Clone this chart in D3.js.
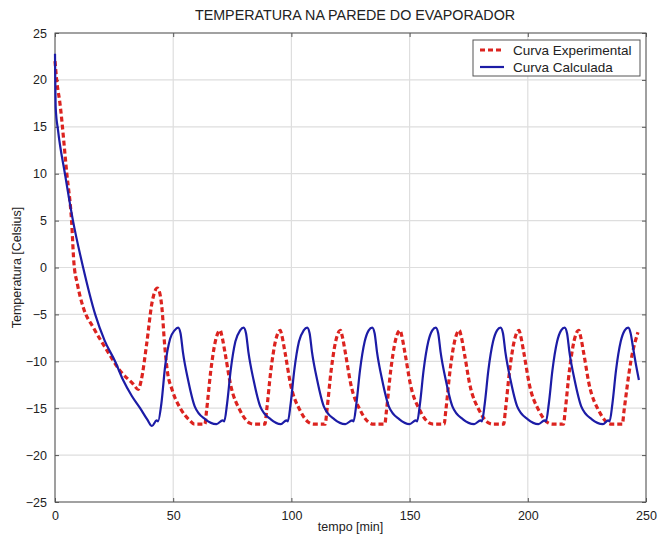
<!DOCTYPE html>
<html>
<head>
<meta charset="utf-8">
<script src="https://cdn.jsdelivr.net/npm/d3@7"></script>
<style>
	body { margin: 0; background: #fff; }
	svg { font-family: "Liberation Sans", Arial, sans-serif; }
</style>
</head>
<body>
<div id="chart"></div>
<script>
// curva experimental (tempo [min], temperatura [C])
var experimental = [
	[0, 22], [0.7, 20], [2.1, 17.5], [5, 10], [7, 5], [8, 0.5], [9.5, -1.8], [12, -4.3],
	[16.2, -6.4], [21.9, -8.8], [27.5, -11], [33, -12.4], [35.2, -13], [36.5, -12],
	[38.8, -8.1], [41, -3.8], [43.3, -2.2], [44.3, -2.7], [45.3, -4.5], [46.3, -8],
	[47.5, -11], [49.5, -13], [53, -15], [57, -16.3], [59, -16.7],
	[63.4, -16.7], [64.1, -15.3], [65.9, -11], [67.9, -7.8], [69.3, -6.8], [69.9, -6.7], [70.5, -7.2], [72, -9.2], [74.2, -12.4], [78.4, -15.3], [82.4, -16.6], [83.9, -16.7],
	[88.8, -16.7], [89.5, -15.3], [91.3, -11], [93.3, -7.8], [94.7, -6.8], [95.3, -6.7], [95.9, -7.2], [97.4, -9.2], [99.6, -12.4], [103.8, -15.3], [107.8, -16.6], [109.3, -16.7],
	[114.3, -16.7], [115, -15.3], [116.8, -11], [118.8, -7.8], [120.2, -6.8], [120.8, -6.7], [121.4, -7.2], [122.9, -9.2], [125.1, -12.4], [129.3, -15.3], [133.3, -16.6], [134.8, -16.7],
	[139.5, -16.7], [140.2, -15.3], [142, -11], [144, -7.8], [145.4, -6.8], [146, -6.7], [146.6, -7.2], [148.1, -9.2], [150.3, -12.4], [154.5, -15.3], [158.5, -16.6], [160, -16.7],
	[164.6, -16.7], [165.3, -15.3], [167.1, -11], [169.1, -7.8], [170.5, -6.8], [171.1, -6.7], [171.7, -7.2], [173.2, -9.2], [175.4, -12.4], [179.6, -15.3], [183.6, -16.6], [185.1, -16.7],
	[189.8, -16.7], [190.5, -15.3], [192.3, -11], [194.3, -7.8], [195.7, -6.8], [196.3, -6.7], [196.9, -7.2], [198.4, -9.2], [200.6, -12.4], [204.8, -15.3], [208.8, -16.6], [210.3, -16.7],
	[215.1, -16.7], [215.8, -15.3], [217.6, -11], [219.6, -7.8], [221, -6.8], [221.6, -6.7], [222.2, -7.2], [223.7, -9.2], [225.9, -12.4], [230.1, -15.3], [234.1, -16.6], [235.6, -16.7],
	[240, -16.7], [240.7, -15.3], [243.6, -10], [246.6, -6.9]
];

// curva calculada
var calculada = [
	[0, 22.8], [0.3, 17], [1.3, 14.6], [4.2, 10], [7.6, 5], [11.9, 0], [17, -5], [21, -7.8],
	[25.4, -10], [28.8, -12], [32.5, -13.7], [36, -15], [39, -16.2], [41, -16.9],
	[43, -16.3], [43.6, -16.4], [45, -14.5], [46.6, -10.5], [48.7, -7.6], [50.6, -6.7], [52.1, -6.4], [53.1, -7], [54.1, -9], [56.3, -12], [59.1, -14.8], [63.6, -16.2], [68.3, -16.7],
	[70.9, -16.3], [71.6, -16.4], [72.8, -14.5], [74.3, -11], [76.3, -7.9], [78.3, -6.7], [79.8, -6.4], [80.8, -7], [81.8, -9], [84, -12], [86.8, -14.8], [91.3, -16.2], [95.5, -16.7],
	[97.9, -16.3], [98.5, -16.4], [99.7, -14.5], [101.2, -11], [103.2, -7.9], [105.2, -6.7], [106.7, -6.4], [107.7, -7], [108.7, -9], [110.9, -12], [113.7, -14.8], [118.2, -16.2], [122.8, -16.7],
	[125.7, -16.3], [126.3, -16.4], [127.5, -14.5], [129, -11], [131, -7.9], [132.7, -6.7], [134.2, -6.4], [135.2, -7], [136.2, -9], [138.4, -12], [141.2, -14.8], [145.7, -16.2], [150, -16.7],
	[152.6, -16.3], [153.2, -16.4], [154.4, -14.5], [155.9, -11], [157.9, -7.9], [159.6, -6.7], [161.1, -6.4], [162.1, -7], [163.1, -9], [165.3, -12], [168.1, -14.8], [172.6, -16.2], [177.3, -16.7],
	[180, -16.3], [180.6, -16.4], [181.8, -14.5], [183.3, -11], [185.3, -7.9], [187, -6.7], [188.5, -6.4], [189.5, -7], [190.5, -9], [192.7, -12], [195.5, -14.8], [200, -16.2], [204.5, -16.7],
	[207.1, -16.3], [207.7, -16.4], [208.9, -14.5], [210.4, -11], [212.4, -7.9], [214.1, -6.7], [215.6, -6.4], [216.6, -7], [217.6, -9], [219.8, -12], [222.6, -14.8], [227.1, -16.2], [231.8, -16.7],
	[234, -16.3], [234.6, -16.4], [235.8, -14.5], [237.3, -11], [239.3, -7.9], [241, -6.7], [242.5, -6.4], [243.5, -7], [244.5, -8.5], [245.5, -10], [247, -12]
];

var xTicks = [0, 50, 100, 150, 200, 250];
var yTicks = [-25, -20, -15, -10, -5, 0, 5, 10, 15, 20, 25];
var seriesNames = ["Curva Experimental", "Curva Calculada"];

var W = 664, H = 541;
var margin = { left: 55, right: 18, top: 33, bottom: 39 };
var iw = W - margin.left - margin.right;
var ih = H - margin.top - margin.bottom;

var svg = d3.select("#chart").append("svg")
	.attr("width", W)
	.attr("height", H);

var x = d3.scaleLinear().domain([0, 250]).range([0, iw]);
var y = d3.scaleLinear().domain([-25, 25]).range([ih, 0]);

var g = svg.append("g")
	.attr("transform", "translate(" + margin.left + "," + margin.top + ")");

// grid
g.append("g").selectAll("line").data(xTicks).enter().append("line")
	.attr("x1", x).attr("x2", x).attr("y1", 0).attr("y2", ih)
	.attr("stroke", "#dedede").attr("stroke-width", 1.2);
g.append("g").selectAll("line").data(yTicks).enter().append("line")
	.attr("y1", y).attr("y2", y).attr("x1", 0).attr("x2", iw)
	.attr("stroke", "#dedede").attr("stroke-width", 1.2);

// axes, ticks pointing inward
var axisStyle = function (sel) {
	sel.select(".domain").remove();
	sel.selectAll(".tick line").attr("stroke", "#555");
	sel.selectAll("text").attr("fill", "#222").style("font-size", "12.5px");
};
g.append("g").attr("transform", "translate(0," + ih + ")")
	.call(d3.axisBottom(x).tickValues(xTicks).tickSizeInner(-4).tickPadding(9))
	.call(axisStyle);
g.append("g")
	.call(d3.axisLeft(y).tickValues(yTicks).tickSizeInner(-4).tickPadding(8))
	.call(axisStyle);
g.append("g")
	.call(d3.axisTop(x).tickValues(xTicks).tickSizeInner(-4).tickFormat(""))
	.call(axisStyle);
g.append("g").attr("transform", "translate(" + iw + ",0)")
	.call(d3.axisRight(y).tickValues(yTicks).tickSizeInner(-4).tickFormat(""))
	.call(axisStyle);

g.append("rect")
	.attr("width", iw).attr("height", ih)
	.attr("fill", "none").attr("stroke", "#555").attr("stroke-width", 1);

var line = d3.line()
	.x(function (d) { return x(d[0]); })
	.y(function (d) { return y(d[1]); })
	.curve(d3.curveMonotoneX);

g.append("path")
	.datum(experimental)
	.attr("d", line)
	.attr("fill", "none")
	.attr("stroke", "#dc231f")
	.attr("stroke-width", 3.2)
	.attr("stroke-dasharray", "5,3");

g.append("path")
	.datum(calculada)
	.attr("d", line)
	.attr("fill", "none")
	.attr("stroke", "#1c1ca6")
	.attr("stroke-width", 2.2);

// legend
var legend = svg.append("g").attr("transform", "translate(473,40)");
legend.append("rect")
	.attr("width", 167).attr("height", 36)
	.attr("fill", "#fff").attr("stroke", "#555").attr("stroke-width", 1);
var legendStyles = [
	{ stroke: "#dc231f", width: 3.2, dash: "5,3" },
	{ stroke: "#1c1ca6", width: 2.2, dash: null }
];
seriesNames.forEach(function (name, i) {
	var row = legend.append("g").attr("transform", "translate(0," + (10 + i * 17) + ")");
	row.append("line")
		.attr("x1", 7).attr("x2", 31).attr("y1", 0).attr("y2", 0)
		.attr("stroke", legendStyles[i].stroke)
		.attr("stroke-width", legendStyles[i].width)
		.attr("stroke-dasharray", legendStyles[i].dash);
	row.append("text")
		.attr("x", 40).attr("y", 4.5)
		.attr("fill", "#222")
		.style("font-size", "13.5px")
		.text(name);
});

// titles
svg.append("text")
	.attr("x", 355).attr("y", 20)
	.attr("text-anchor", "middle")
	.attr("fill", "#222")
	.style("font-size", "14.3px")
	.text("TEMPERATURA NA PAREDE DO EVAPORADOR");

svg.append("text")
	.attr("x", margin.left + iw / 2).attr("y", 531)
	.attr("text-anchor", "middle")
	.attr("fill", "#222")
	.style("font-size", "12.5px")
	.text("tempo [min]");

svg.append("text")
	.attr("transform", "translate(21," + (margin.top + ih / 2) + ") rotate(-90)")
	.attr("text-anchor", "middle")
	.attr("fill", "#222")
	.style("font-size", "12.5px")
	.text("Temperatura [Celsius]");
</script>
</body>
</html>
